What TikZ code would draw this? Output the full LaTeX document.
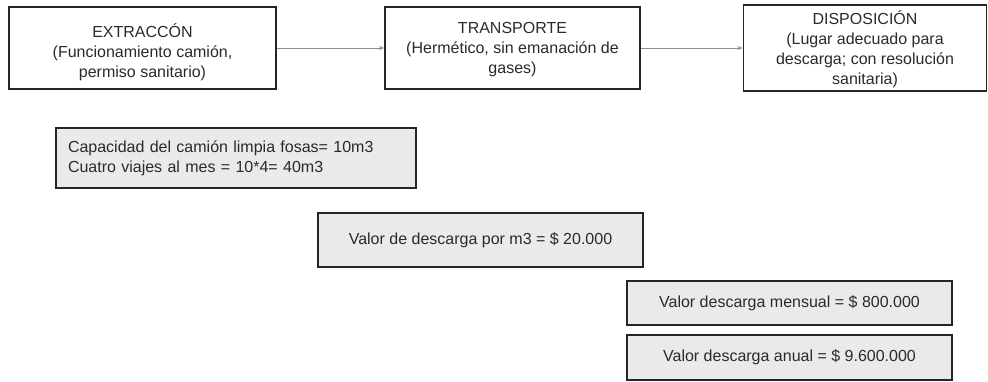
\documentclass[tikz,border=0pt]{standalone}
\usepackage{fontspec}
\setmainfont{Liberation Sans}
\usetikzlibrary{arrows.meta}
\definecolor{txt}{HTML}{2A2A2A}
\definecolor{boxfill}{HTML}{EAEAEA}
\definecolor{arr}{HTML}{8C8C8C}
\begin{document}
\begin{tikzpicture}[x=1pt,y=-1pt,
  every node/.style={font=\fontsize{16}{20}\selectfont, text=txt},
  topbox/.style={draw=black!85, line width=1.9pt, inner sep=0pt},
  toptext/.style={align=center, inner sep=0pt},
  calcbox/.style={draw=black!85, line width=2pt, fill=boxfill, inner sep=0pt},
  flow/.style={draw=arr, line width=0.8pt, -{Stealth[length=5pt,width=4pt]}}]
\useasboundingbox (0,0) rectangle (988,381);
\node[topbox, minimum width=267pt, minimum height=82pt] (ext) at (142.5,48) {};
\node[toptext] (extT) at ([yshift=-4pt]ext.center) {EXTRACCÓN\\(Funcionamiento camión,\\permiso sanitario)};
\node[topbox, minimum width=255pt, minimum height=82pt] (tra) at (512.5,48) {};
\node[toptext] (traT) at ([yshift=-2pt]tra.center) {TRANSPORTE\\(Hermético, sin emanación de\\gases)};
\node[topbox, minimum width=243pt, minimum height=86pt] (dis) at (865,48) {};
\node[toptext] (disT) at ([yshift=-1pt]dis.center) {DISPOSICIÓN\\(Lugar adecuado para\\descarga; con resolución\\sanitaria)};
\draw[flow] (ext) -- (tra);
\draw[flow] (tra) -- (dis);
\node[calcbox, minimum width=360pt, minimum height=60pt, text width=336pt, align=left, inner xsep=12pt] (cap) at (236,158) {Capacidad del camión limpia fosas= 10m3\\Cuatro viajes al mes = 10*4= 40m3};
\node[calcbox, minimum width=325pt, minimum height=54pt, align=center] (vm3) at (480.5,240) {Valor de descarga por m3 = \$ 20.000};
\node[calcbox, minimum width=325pt, minimum height=44pt, align=center] (men) at (789.5,303) {Valor descarga mensual = \$ 800.000};
\node[calcbox, minimum width=325pt, minimum height=45pt, align=center] (anu) at (789.5,357.5) {Valor descarga anual = \$ 9.600.000};
\end{tikzpicture}
\end{document}
